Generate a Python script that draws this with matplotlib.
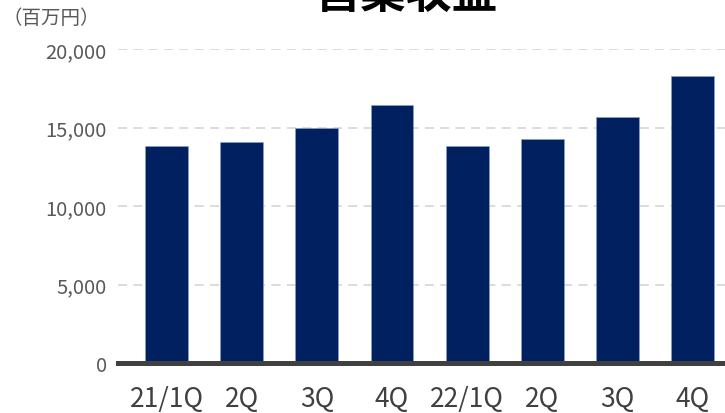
import matplotlib
matplotlib.use('Agg')
import matplotlib.pyplot as plt
from matplotlib.ticker import FuncFormatter

plt.rcParams['font.family'] = ['Noto Sans CJK JP', 'DejaVu Sans']

# ===== データ =====
quarters = ['21/1Q', '2Q', '3Q', '4Q', '22/1Q', '2Q', '3Q', '4Q']
revenue = [13800, 14050, 15000, 16450, 13800, 14250, 15650, 18300]

fig = plt.figure(figsize=(7.25, 4.14), dpi=100)
ax = fig.add_axes([118 / 725, 1 - 364 / 414, 1 - 118 / 725, (364 - 50) / 414])

x = range(len(quarters))
ax.bar(x, revenue, width=0.57, color='#002060', edgecolor='#8ea2c8', linewidth=0.4, zorder=3)

ax.set_ylim(0, 20000)
ax.set_xlim(-0.645, 7.43)
ax.set_yticks([0, 5000, 10000, 15000, 20000])
ax.yaxis.set_major_formatter(FuncFormatter(lambda v, p: f'{int(v):,}'))
ax.set_xticks(list(x))
ax.set_xticklabels(quarters)

ax.tick_params(axis='y', length=0, pad=8, labelsize=14.5, labelcolor='#595959')
ax.tick_params(axis='x', length=0, pad=16, labelsize=19, labelcolor='#404040')

ax.grid(axis='y', color='#d9d9d9', linestyle=(0, (5, 3.5)), linewidth=1.3, zorder=0)
for s in ['top', 'right', 'left']:
    ax.spines[s].set_visible(False)
ax.spines['bottom'].set_color('#404040')
ax.spines['bottom'].set_linewidth(3.6)
ax.spines['bottom'].set_zorder(4)

fig.text(3 / 725, 1 - 19 / 414, '（百万円）', fontsize=14, color='#595959', va='center', ha='left')
fig.text(406 / 725, 1 - 8 / 414, '営業収益', fontsize=33, fontweight='bold', color='black',
         ha='center', va='baseline')

fig.savefig('out.png', dpi=100)
